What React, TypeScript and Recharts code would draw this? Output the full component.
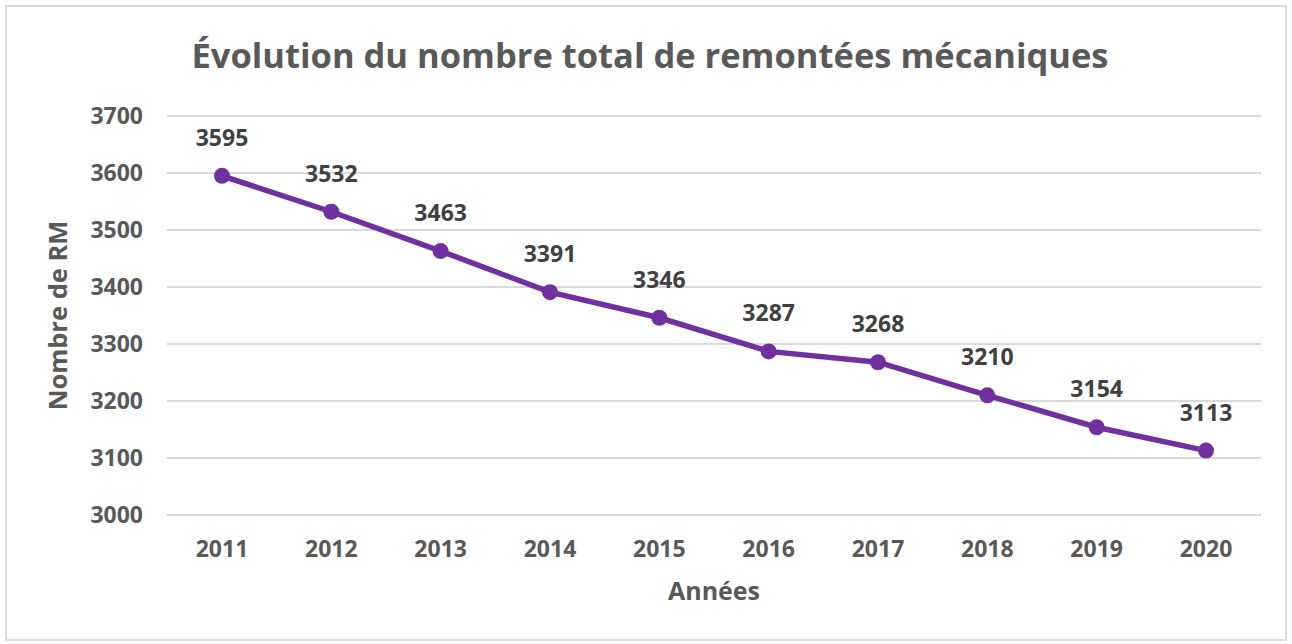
import { LineChart, Line, XAxis, YAxis, CartesianGrid, LabelList } from "recharts";

const years = ["2011", "2012", "2013", "2014", "2015", "2016", "2017", "2018", "2019", "2020"];
const remontees = [3595, 3532, 3463, 3391, 3346, 3287, 3268, 3210, 3154, 3113];
const yTicks = [3000, 3100, 3200, 3300, 3400, 3500, 3600, 3700];

const data = years.map((y, i) => ({ year: y, value: remontees[i] }));

const font = "'Open Sans', sans-serif";

export default function App() {
  return (
    <div
      style={{
        position: "absolute",
        left: 5,
        top: 5,
        width: 1282,
        height: 636,
        boxSizing: "border-box",
        border: "2px solid #d9d9d9",
        background: "#fff",
        fontFamily: font,
      }}
    >
      <div
        style={{
          position: "absolute",
          left: 0,
          right: 0,
          top: 25,
          textAlign: "center",
          fontSize: 34.5,
          fontWeight: 700,
          color: "#595959",
          lineHeight: "46px",
          paddingLeft: 8,
        }}
      >
        Évolution du nombre total de remontées mécaniques
      </div>
      <LineChart
        width={1278}
        height={632}
        data={data}
        margin={{ top: 109, right: 24, bottom: 34, left: 0 }}
        style={{ fontFamily: font }}
      >
        <CartesianGrid vertical={false} stroke="#d9d9d9" strokeWidth={2} />
        <XAxis
          dataKey="year"
          axisLine={false}
          tickLine={false}
          tickSize={0}
          tickMargin={26}
          height={90}
          padding={{ left: 55, right: 55 }}
          tick={{ fill: "#595959", fontSize: 23, fontWeight: 700 }}
          label={{
            content: ({ viewBox }: any) => (
              <text
                x={viewBox.x + viewBox.width / 2}
                y={viewBox.y + 85}
                textAnchor="middle"
                fill="#595959"
                fontSize={25}
                fontWeight={700}
              >
                Années
              </text>
            ),
          }}
        />
        <YAxis
          domain={[3000, 3700]}
          ticks={yTicks}
          interval={0}
          axisLine={false}
          tickLine={false}
          tickSize={0}
          tickMargin={24}
          width={160}
          tick={{ fill: "#595959", fontSize: 23, fontWeight: 700 }}
          label={{
            content: ({ viewBox }: any) => {
              const cx = 50;
              const cy = viewBox.y + viewBox.height / 2;
              return (
                <text
                  x={cx}
                  y={cy}
                  transform={`rotate(-90, ${cx}, ${cy})`}
                  textAnchor="middle"
                  dominantBaseline="central"
                  fill="#595959"
                  fontSize={25.5}
                  fontWeight={700}
                >
                  Nombre de RM
                </text>
              );
            },
          }}
        />
        <Line
          type="linear"
          dataKey="value"
          stroke="#7030a0"
          strokeWidth={5.5}
          dot={{ r: 8, fill: "#7030a0", stroke: "#7030a0", strokeWidth: 0 }}
          activeDot={false}
          isAnimationActive={false}
        >
          <LabelList
            dataKey="value"
            position="top"
            offset={30}
            fill="#404040"
            fontSize={23}
            fontWeight={700}
          />
        </Line>
      </LineChart>
    </div>
  );
}
